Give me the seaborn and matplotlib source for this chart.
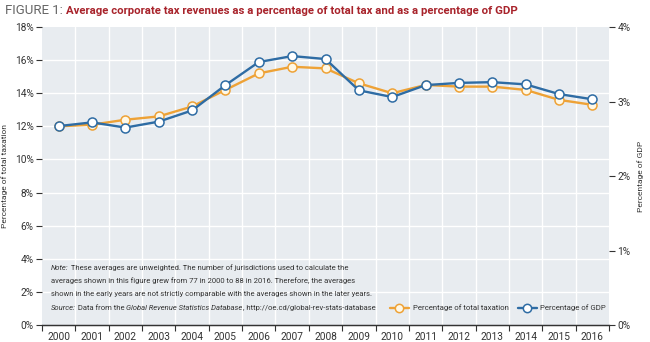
import matplotlib
matplotlib.use("Agg")
import matplotlib.pyplot as plt
import seaborn as sns
import pandas as pd
import numpy as np
from matplotlib.lines import Line2D
from matplotlib.ticker import FixedLocator, FuncFormatter

years = list(range(2000, 2017))
pct_total_tax = [12.0, 12.1, 12.4, 12.6, 13.2, 14.2, 15.2, 15.6, 15.5, 14.6, 14.0, 14.5, 14.4, 14.4, 14.2, 13.6, 13.3]
pct_gdp = [2.67, 2.72, 2.65, 2.73, 2.88, 3.22, 3.53, 3.61, 3.57, 3.15, 3.06, 3.22, 3.25, 3.26, 3.23, 3.10, 3.03]
left_ticks = [0, 2, 4, 6, 8, 10, 12, 14, 16, 18]
right_ticks = [0, 1, 2, 3, 4]
series_names = ["Percentage of total taxation", "Percentage of GDP"]

sns.set_theme(style="white")
FONT = ["Roboto", "DejaVu Sans"]
plt.rcParams["font.family"] = FONT

ORANGE = "#eea236"
BLUE = "#2e6ca4"
BG = "#e8ecf0"
TXT = "#333333"
MS = 6.5
LW = 1.7

df = pd.DataFrame({"year": years, "tax": pct_total_tax, "gdp": pct_gdp})

fig = plt.figure(figsize=(6.5, 3.42), dpi=100)
ax = fig.add_axes([0.0646, 0.0497, 0.8724, 0.8713])
ax.set_facecolor(BG)
ax2 = ax.twinx()

sns.lineplot(data=df, x="year", y="tax", ax=ax, color=ORANGE, lw=LW,
             marker="o", markersize=MS, markerfacecolor="#fff8e6",
             markeredgecolor=ORANGE, markeredgewidth=1.1, zorder=3)
sns.lineplot(data=df, x="year", y="gdp", ax=ax2, color=BLUE, lw=LW,
             marker="o", markersize=MS, markerfacecolor="white",
             markeredgecolor=BLUE, markeredgewidth=1.1, zorder=3)

ax.set_xlim(years[0] - 0.5, years[-1] + 0.5)
ax.set_ylim(0, 18)
ax2.set_ylim(0, 4)

# grid
for b in np.arange(years[0] - 0.5, years[-1] + 0.6, 1.0):
    if years[0] - 0.5 < b < years[-1] + 0.5:
        ax.axvline(b, color="white", lw=1.0, zorder=0)
for t in left_ticks[1:-1]:
    ax.axhline(t, color="white", lw=1.0, zorder=0)

ax.set_yticks(left_ticks)
ax.yaxis.set_major_formatter(FuncFormatter(lambda v, p: f"{v:.0f}%"))
ax2.set_yticks(right_ticks)
ax2.yaxis.set_major_formatter(FuncFormatter(lambda v, p: f"{v:.0f}%"))

ax.set_xticks(years)
ax.set_xticklabels([str(y) for y in years])
ax.xaxis.set_minor_locator(FixedLocator(list(np.arange(years[0] - 0.5, years[-1] + 0.6, 1.0))))
ax.tick_params(axis="x", which="major", length=0, labelsize=7.3, labelcolor=TXT, pad=5)
ax.tick_params(axis="x", which="minor", length=4, width=0.8, color=TXT, direction="out", bottom=True)
ax.tick_params(axis="y", which="major", length=4, width=0.8, color=TXT, labelsize=7.3,
               labelcolor=TXT, pad=2, left=True)
ax2.tick_params(axis="y", which="major", length=4, width=0.8, color=TXT, labelsize=7.3,
                labelcolor=TXT, pad=2, right=True)

for a in (ax, ax2):
    for s in ("top", "left", "right"):
        a.spines[s].set_visible(False)
    a.spines["bottom"].set_color(TXT)
    a.spines["bottom"].set_linewidth(0.9)
ax.set_xlabel("")
ax.set_ylabel("Percentage of total taxation", fontsize=6.0, color=TXT, labelpad=5)
ax2.set_ylabel("Percentage of GDP", fontsize=6.0, color=TXT, labelpad=5)
ax2.yaxis.label.set_rotation(90)

# title
t1 = fig.text(0.008, 0.968, "FIGURE 1: ", fontsize=9.5, color="#666666", va="center", ha="left")
ax.annotate("Average corporate tax revenues as a percentage of total tax and as a percentage of GDP",
            xy=(1, 0.5), xycoords=t1, va="center", ha="left", fontsize=8.2,
            fontweight="bold", color="#a8232b", annotation_clip=False)

# note
NS = 5.5
X0 = 0.016
n1 = ax.text(X0, 0.191, "Note:", transform=ax.transAxes, fontsize=NS, style="italic", color=TXT, va="center")
ax.annotate(" These averages are unweighted. The number of jurisdictions used to calculate the",
            xy=(1, 0.5), xycoords=n1, fontsize=NS, color=TXT, va="center")
ax.text(X0, 0.148, "averages shown in this figure grew from 77 in 2000 to 88 in 2016. Therefore, the averages",
        transform=ax.transAxes, fontsize=NS, color=TXT, va="center")
ax.text(X0, 0.104, "shown in the early years are not strictly comparable with the averages shown in the later years.",
        transform=ax.transAxes, fontsize=NS, color=TXT, va="center")
s1 = ax.text(X0, 0.057, "Source:", transform=ax.transAxes, fontsize=NS, style="italic", color=TXT, va="center")
s2 = ax.annotate(" Data from the ", xy=(1, 0.5), xycoords=s1, fontsize=NS, color=TXT, va="center")
s3 = ax.annotate("Global Revenue Statistics Database", xy=(1, 0.5), xycoords=s2, fontsize=NS,
                 style="italic", color=TXT, va="center")
ax.annotate(", http://oe.cd/global-rev-stats-database", xy=(1, 0.5), xycoords=s3, fontsize=NS,
            color=TXT, va="center")

handles = [
    Line2D([], [], color=ORANGE, lw=LW, marker="o", markersize=MS - 0.5, markerfacecolor="#fff8e6",
           markeredgecolor=ORANGE, markeredgewidth=1.1),
    Line2D([], [], color=BLUE, lw=LW, marker="o", markersize=MS - 0.5, markerfacecolor="white",
           markeredgecolor=BLUE, markeredgewidth=1.1),
]
ax2.legend(handles, series_names, loc="center right", bbox_to_anchor=(0.995, 0.057), ncol=2,
           frameon=False, fontsize=5.6, handlelength=2.4, columnspacing=1.2, handletextpad=0.5,
           labelcolor=TXT, borderaxespad=0, borderpad=0)

fig.savefig("out.png", dpi=100)
